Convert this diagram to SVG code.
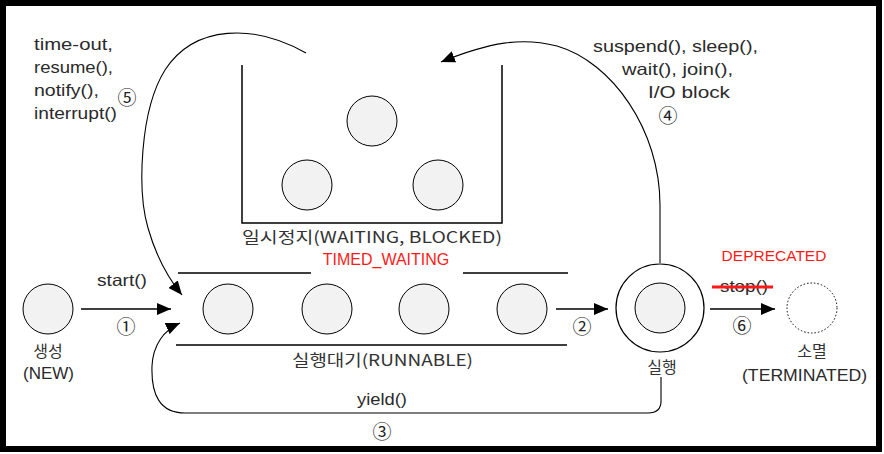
<svg xmlns="http://www.w3.org/2000/svg" width="884" height="454" viewBox="0 0 884 454">
<style>
.t{font-family:"Liberation Sans",Arial,"Noto Sans CJK KR",sans-serif;font-size:16.5px;fill:#2a2a2a}
.k{font-family:"Noto Sans CJK KR","Liberation Sans",sans-serif;font-size:16px;fill:#333}
.n{font-family:"Noto Sans CJK KR","DejaVu Sans",sans-serif;font-size:19px;fill:#222}
.r{font-family:"Liberation Sans",Arial,sans-serif;fill:#ff1a1a}
.st{fill:#f2f2f2;stroke:#000;stroke-width:1}
.ln{fill:none;stroke:#000;stroke-width:1.5}
.cv{fill:none;stroke:#000;stroke-width:1.1}
</style>
<defs>
<marker id="ah" markerWidth="14" markerHeight="12" refX="14" refY="6" orient="auto" markerUnits="userSpaceOnUse"><path d="M0,0 L14,6 L0,12 z" fill="#000"/></marker>
</defs>
<rect x="0" y="0" width="884" height="454" fill="#fff"/>
<rect x="3" y="3" width="876" height="446" fill="none" stroke="#000" stroke-width="6"/>

<g id="connectors">
<path class="ln" d="M81,309 L171,309" marker-end="url(#ah)"/>
<path class="ln" d="M556,309 L608,309" marker-end="url(#ah)"/>
<path class="ln" d="M710,309 L775,309" marker-end="url(#ah)"/>
<path class="cv" d="M661,377 L661,401 Q661,413 648,413 L185,413 C160,413 151,395 152,366 C153,345 164,330 180,323" marker-end="url(#ah)"/>
<path class="cv" d="M306,53 C255,24 195,24 165,70 C140,110 137,190 148,228 C156,256 168,278 182,295" marker-end="url(#ah)"/>
<path class="cv" d="M660,263 L660,205 C660,130 612,62 557,46 C522,37 490,42 441,62" marker-end="url(#ah)"/>
</g>

<g id="new">
<circle class="st" cx="48" cy="309" r="25"/>
<text class="k" x="48" y="357" text-anchor="middle">생성</text>
<text class="t" x="23" y="379" textLength="51" lengthAdjust="spacingAndGlyphs">(NEW)</text>
</g>

<g id="runnable">
<path class="ln" d="M178,273 L311,273 M463,273 L568,273 M176,345 L567,345"/>
<circle class="st" cx="228" cy="309" r="25"/>
<circle class="st" cx="327" cy="309" r="25"/>
<circle class="st" cx="424" cy="309" r="25"/>
<circle class="st" cx="522" cy="309" r="25"/>
<text class="k" x="292" y="366" textLength="181" lengthAdjust="spacingAndGlyphs">실행대기(RUNNABLE)</text>
<text class="r" x="386" y="265" font-size="16" text-anchor="middle">TIMED_WAITING</text>
</g>

<g id="waiting">
<path class="ln" d="M242,65 L242,223 L502,223 L502,65"/>
<circle class="st" cx="372" cy="121" r="25"/>
<circle class="st" cx="307" cy="185" r="25"/>
<circle class="st" cx="438" cy="185" r="25"/>
<text class="k" x="242" y="243" textLength="260" lengthAdjust="spacingAndGlyphs">일시정지(WAITING, BLOCKED)</text>
</g>

<g id="running">
<circle cx="660" cy="308" r="44" fill="#fff" stroke="#000" stroke-width="1.2"/>
<circle class="st" cx="660" cy="308" r="25"/>
<text class="k" x="662" y="373" text-anchor="middle">실행</text>
</g>

<g id="terminated">
<circle cx="812" cy="308" r="25" fill="#fff" stroke="#000" stroke-width="1" stroke-dasharray="1.5,2"/>
<text class="k" x="812" y="357" text-anchor="middle">소멸</text>
<text class="t" x="742" y="381" textLength="125" lengthAdjust="spacingAndGlyphs">(TERMINATED)</text>
</g>

<g id="labels">
<text class="t" x="97" y="286" textLength="50" lengthAdjust="spacingAndGlyphs">start()</text>
<text class="n" x="126" y="334" text-anchor="middle">①</text>
<text class="n" x="582" y="334" text-anchor="middle">②</text>
<text class="t" x="357" y="405" textLength="50" lengthAdjust="spacingAndGlyphs">yield()</text>
<text class="n" x="382" y="439" text-anchor="middle">③</text>
<text class="t" x="593" y="52" textLength="165" lengthAdjust="spacingAndGlyphs">suspend(), sleep(),</text>
<text class="t" x="622" y="75" textLength="111" lengthAdjust="spacingAndGlyphs">wait(), join(),</text>
<text class="t" x="648" y="98" textLength="82" lengthAdjust="spacingAndGlyphs">I/O block</text>
<text class="n" x="668" y="123" text-anchor="middle">④</text>
<text class="t" x="34" y="50" textLength="79" lengthAdjust="spacingAndGlyphs">time-out,</text>
<text class="t" x="34" y="73" textLength="79" lengthAdjust="spacingAndGlyphs">resume(),</text>
<text class="t" x="34" y="96" textLength="65" lengthAdjust="spacingAndGlyphs">notify(),</text>
<text class="t" x="34" y="119" textLength="83" lengthAdjust="spacingAndGlyphs">interrupt()</text>
<text class="n" x="127" y="105" text-anchor="middle">⑤</text>
<text class="t" x="720" y="292" textLength="48" lengthAdjust="spacingAndGlyphs">stop()</text>
<line x1="712" y1="287" x2="773" y2="287" stroke="#ff1a1a" stroke-width="3"/>
<text class="r" x="774" y="261" font-size="15.5" text-anchor="middle">DEPRECATED</text>
<text class="n" x="742" y="333" text-anchor="middle">⑥</text>
</g>
</svg>
